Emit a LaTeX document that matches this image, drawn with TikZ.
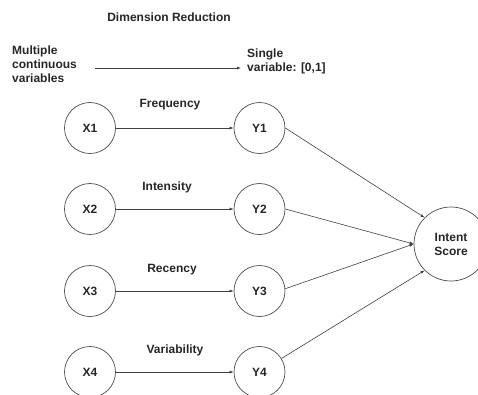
\documentclass[tikz,border=0pt]{standalone}
\usepackage{fontspec}
\setmainfont{Liberation Sans}
\usetikzlibrary{arrows.meta}
\begin{document}
\begin{tikzpicture}[x=1pt,y=-1pt,
  txt/.style={font=\fontsize{12}{14}\selectfont\bfseries, text=black!85, inner sep=0pt},
  var/.style={circle, draw=black!70, line width=0.7pt, minimum size=51pt, inner sep=0pt, font=\fontsize{12}{14}\selectfont\bfseries, text=black!85},
  big/.style={circle, draw=black!70, line width=0.7pt, minimum size=74pt, inner sep=0pt, align=center, font=\fontsize{12}{14}\selectfont\bfseries, text=black!85},
  conn/.style={draw=black!75, line width=0.6pt, -{Latex[length=4pt,width=3pt]}}
]
\useasboundingbox (0,0) rectangle (478,394);
\clip (0,0) rectangle (478,394);
\node[txt] (title) at (169,17) {Dimension Reduction};
\node[txt, align=left, anchor=west] (multi) at (12,64) {Multiple\\continuous\\variables};
\node[txt, align=left, anchor=west] (single) at (247,61) {Single\\variable: [0,1]};
\coordinate (a0) at (95,68);
\coordinate (a1) at (241,68);
\draw[conn] (a0) -- (a1);

\node[var] (X1) at (90,128) {X1};
\node[var] (X2) at (90,209) {X2};
\node[var] (X3) at (90,291) {X3};
\node[var] (X4) at (90,372) {X4};
\node[var] (Y1) at (259.5,128) {Y1};
\node[var] (Y2) at (259.5,209) {Y2};
\node[var] (Y3) at (259.5,291) {Y3};
\node[var] (Y4) at (259.5,372) {Y4};
\node[big] (IS) at (451,244) {Intent\\Score};

\node[txt] (f) at (170,105) {Frequency};
\node[txt] (i) at (167,187) {Intensity};
\node[txt] (r) at (172,270) {Recency};
\node[txt] (v) at (175,350) {Variability};

\draw[conn] (X1) -- (Y1);
\draw[conn] (X2) -- (Y2);
\draw[conn] (X3) -- (Y3);
\draw[conn] (X4) -- (Y4);
\draw[conn] (Y1.east) -- (IS.135);
\draw[conn] (Y2.east) -- (IS.west);
\draw[conn] (Y3.5) -- (IS.west);
\draw[conn] (Y4) -- (IS.225);
\end{tikzpicture}
\end{document}
